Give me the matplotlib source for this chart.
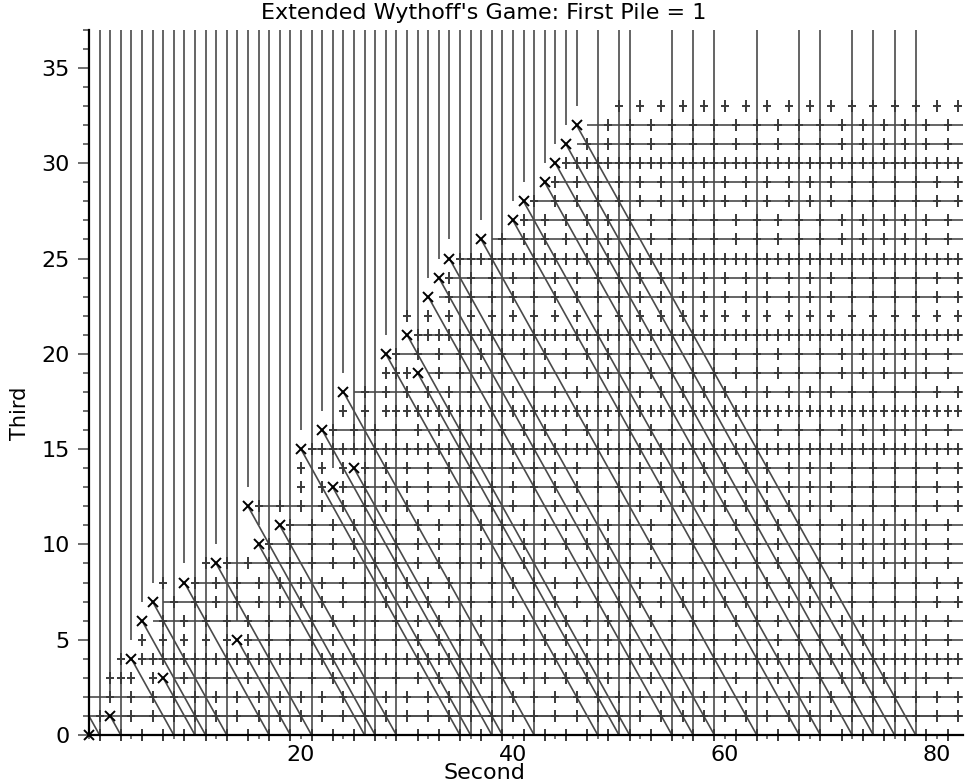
import matplotlib
matplotlib.use('Agg')
import matplotlib.pyplot as plt
from matplotlib.path import Path
from matplotlib.ticker import MultipleLocator

# P-positions (second pile, third pile), drawn as X
p_second = [0, 2, 4, 5, 6, 7, 9, 12, 14, 15, 16, 18, 20, 22, 23, 24, 25,
            28, 30, 31, 32, 33, 34, 37, 40, 41, 43, 44, 45, 46]
p_third = [0, 1, 4, 6, 7, 3, 8, 9, 5, 12, 10, 11, 15, 16, 13, 18, 14,
           20, 21, 19, 23, 24, 25, 26, 27, 28, 29, 30, 31, 32]

# vertical lines running the full height
full_vertical = [0, 1, 3, 8, 10, 11, 13, 17, 19, 21, 26, 27, 29, 35, 36, 38,
                 39, 42, 48, 50, 51, 55, 57, 59, 63, 67, 69, 72, 74, 76, 78]
# horizontal lines running the full width
full_horizontal = [1, 2]

# "+" marks: one string per row (third), character index = second (0..82)
E = '..........'
EV = '+.+.+.+.+.'
OD = '.+.+.+.+.+'
AL = '++++++++++'
plus_rows = {
    33: E + E + E + E + E + EV + EV + EV + '+.+',
    32: E + E + E + E + '.........+' + OD + OD + OD + '.+.',
    31: E + E + E + E + '.......+.+' + OD + OD + OD + '.+.',
    30: E + E + E + E + '.....+++++' + AL + AL + AL + '+++',
    29: E + E + E + E + '....+.+.+.' + EV + EV + EV + '+.+',
    28: E + E + E + E + '..+.+.+.+.' + EV + EV + EV + '+.+',
    27: E + E + E + E + OD + OD + OD + OD + '.+.',
    26: E + E + E + '.........+' + OD + OD + OD + OD + '.+.',
    25: E + E + E + '.....+++++' + AL + AL + AL + AL + '+++',
    24: E + E + E + '....+.+.+.' + EV + EV + EV + EV + '+.+',
    23: E + E + E + '....+.+.+.' + EV + EV + EV + EV + '+.+',
    22: E + E + E + EV + EV + EV + EV + EV + '+.+',
    21: E + E + E + '.+++++++++' + AL + AL + AL + AL + '+++',
    20: E + E + '.........+' + OD + OD + OD + OD + OD + '.+.',
    19: E + E + '........++' + '+..+.+.+.+' + OD + OD + OD + OD + '.+.',
    18: E + E + '......+.+.' + EV + EV + EV + EV + EV + '+.+',
    17: E + E + '....+.+.++' + AL + AL + AL + AL + AL + '+++',
    16: E + E + '...+.+.+.+' + OD + OD + OD + OD + OD + '.+.',
    15: E + E + '.+++++++++' + AL + AL + AL + AL + AL + '+++',
    14: E + E + EV + EV + EV + EV + EV + EV + '+.+',
    13: E + E + EV + EV + EV + EV + EV + EV + '+.+',
    12: E + '......+.+.' + EV + EV + EV + EV + EV + EV + '+.+',
    11: E + '.........+' + OD + OD + OD + OD + OD + OD + '.+.',
    10: E + '.......+.+' + OD + OD + OD + OD + OD + OD + '.+.',
    9: E + OD + OD + OD + OD + OD + OD + OD + '.+.',
    8: '.......+..' + EV + EV + EV + EV + EV + EV + EV + '+.+',
    7: '........+.' + EV + EV + EV + EV + EV + EV + EV + '+.+',
    6: '.......+.+' + OD + OD + OD + OD + OD + OD + OD + '.+.',
    5: '.....+.+.+' + OD + OD + OD + OD + OD + OD + OD + '.+.',
    4: '...+.+++++' + AL + AL + AL + AL + AL + AL + AL + '+++',
    3: '..+++.+..+' + OD + OD + OD + OD + OD + OD + OD + '.+.',
    2: '..+.+.+.+.' + EV + EV + EV + EV + EV + EV + EV + '+.+',
    1: '.+..+.+.+.' + EV + EV + EV + EV + EV + EV + EV + '+.+',
    0: OD + OD + OD + OD + OD + OD + OD + OD + '.+.',
}

XMAX, YMAX = 82.5, 37
LC = '#4a4a4a'

fig = plt.figure(figsize=(9.68, 7.82), dpi=100)
ax = fig.add_axes([0.0919, 0.0601, 0.9034, 0.9018])

ax.vlines(full_vertical, 0, YMAX, color=LC, lw=1.2)
ax.hlines(full_horizontal, 0, XMAX, color=LC, lw=1.2)
ax.plot([0, 1], [1, 0], color=LC, lw=1.2)

for a, b in zip(p_second, p_third):
    ax.vlines(a, b + 1, YMAX, color=LC, lw=1.2)
    ax.hlines(b, a + 1, XMAX, color=LC, lw=1.2)
    if a + b > 0:
        ax.plot([a, a + b], [b, 0], color=LC, lw=1.2)

plus = Path([(-0.32, 0), (0.32, 0), (0, -0.5), (0, 0.5)],
            [Path.MOVETO, Path.LINETO, Path.MOVETO, Path.LINETO])
px, py = [], []
for y, row in plus_rows.items():
    for x, ch in enumerate(row):
        if ch == '+':
            px.append(x)
            py.append(y)
ax.plot(px, py, ls='none', marker=plus, ms=8, mew=1.4, color='#3a3a3a',
        clip_on=False)

ax.plot(p_second, p_third, ls='none', marker='x', ms=7, mew=1.4, color='k',
        clip_on=False, zorder=5)

ax.set_xlim(0, XMAX)
ax.set_ylim(0, YMAX)
ax.spines['top'].set_visible(False)
ax.spines['right'].set_visible(False)
ax.spines['left'].set_linewidth(1.6)
ax.spines['bottom'].set_linewidth(1.6)

ax.set_xticks([20, 40, 60, 80])
ax.xaxis.set_minor_locator(MultipleLocator(4))
ax.set_yticks(range(0, 36, 5))
ax.yaxis.set_minor_locator(MultipleLocator(1))
ax.tick_params(axis='y', which='major', length=8, width=1.2, color='#555555',
               labelsize=16, pad=6)
ax.tick_params(axis='y', which='minor', length=4, width=1.2, color='#555555')
ax.tick_params(axis='x', which='both', length=3, width=1.2, color='#555555',
               labelsize=16, pad=4)

fig.text(0.5, 0.984, "Extended Wythoff's Game: First Pile = 1", fontsize=16,
         ha='center', va='center')
fig.text(0.5, 0.0115, 'Second', fontsize=16, ha='center', va='center')
fig.text(0.021, 0.472, 'Third', fontsize=15, rotation=90, ha='center',
         va='center')

fig.savefig('out.png', dpi=100)
